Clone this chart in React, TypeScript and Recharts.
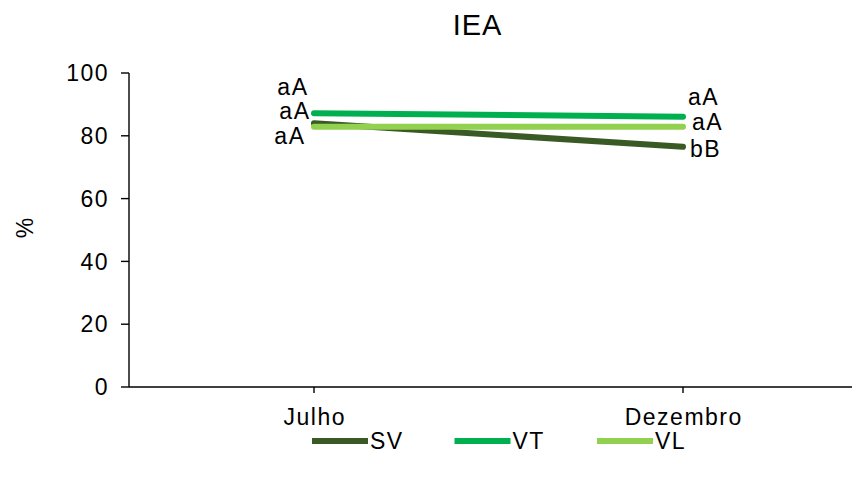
import React from 'react';
import { LineChart, Line, XAxis, YAxis, Legend, LabelList } from 'recharts';

const months = ['Julho', 'Dezembro'];
const seriesNames = ['SV', 'VT', 'VL'];
const svValues = [84, 76.5];
const vtValues = [87.2, 86.1];
const vlValues = [82.9, 82.9];
const svLetters = ['aA', 'bB'];
const vtLetters = ['aA', 'aA'];
const vlLetters = ['aA', 'aA'];
const yTicks = [0, 20, 40, 60, 80, 100];
const title = 'IEA';
const yLabel = '%';

const data = months.map((m, i) => ({
  month: m,
  SV: svValues[i],
  VT: vtValues[i],
  VL: vlValues[i],
  SVl: svLetters[i],
  VTl: vtLetters[i],
  VLl: vlLetters[i],
}));

const COLORS: Record<string, string> = { SV: '#3a5a25', VT: '#00b050', VL: '#92d050' };
const FONT = '"Liberation Sans", Arial, sans-serif';
const FS = 23;
const LS = 1.5;

// label offsets [dx, dy] per series per month (Julho: end anchored, Dezembro: start anchored)
const OFFSETS: Record<string, [number, number][]> = {
  VT: [[-5.5, -26], [5, -20]],
  SV: [[-3.5, -12], [7, 2]],
  VL: [[-8.5, 9], [9, -5]],
};

const makeLabel = (key: string) => (props: any) => {
  const x = props.x ?? props.viewBox?.x;
  const y = props.y ?? props.viewBox?.y;
  if (x == null || y == null) return null;
  const idx = typeof props.index === 'number' ? props.index : x < 480 ? 0 : 1;
  const [dx, dy] = OFFSETS[key][idx];
  return (
    <text
      x={x + dx}
      y={y + dy}
      textAnchor={idx === 0 ? 'end' : 'start'}
      dominantBaseline="central"
      fontFamily={FONT}
      fontSize={FS}
      letterSpacing={LS}
      fill="#000"
    >
      {props.value}
    </text>
  );
};

const XTick = (props: any) => {
  const { x, y, payload } = props;
  return (
    <text
      x={x + LS / 2}
      y={y + 24}
      textAnchor="middle"
      dominantBaseline="central"
      fontFamily={FONT}
      fontSize={FS}
      letterSpacing={LS}
      fill="#000"
    >
      {payload.value}
    </text>
  );
};

const renderLegend = (props: any) => {
  const payload = [...(props.payload || [])].sort(
    (a: any, b: any) => seriesNames.indexOf(a.value) - seriesNames.indexOf(b.value)
  );
  return (
    <svg width={852} height={40} style={{ display: 'block' }}>
      {payload.map((p: any, i: number) => {
        const x0 = 304 + i * 142.5;
        return (
          <g key={p.value}>
            <line x1={x0} y1={21} x2={x0 + 56} y2={21} stroke={p.color} strokeWidth={6} />
            <text
              x={x0 + 58}
              y={21}
              dominantBaseline="central"
              fontFamily={FONT}
              fontSize={FS}
              letterSpacing={LS}
              fill="#000"
            >
              {p.value}
            </text>
          </g>
        );
      })}
    </svg>
  );
};

export default function App() {
  return (
    <div style={{ position: 'relative', width: 852, height: 473, background: '#fff' }}>
      <LineChart width={852} height={473} data={data} margin={{ top: 65, right: 0, bottom: 64, left: 0 }}>
        <XAxis
          dataKey="month"
          padding={{ left: 185, right: 177 }}
          axisLine={{ stroke: '#000', strokeWidth: 1.4 }}
          tickLine={{ stroke: '#000', strokeWidth: 1.4 }}
          tickSize={6}
          tickMargin={0}
          height={30}
          tick={<XTick />}
        />
        <YAxis
          domain={[0, 100]}
          ticks={yTicks}
          width={121}
          axisLine={{ stroke: '#000', strokeWidth: 1.4 }}
          tickLine={{ stroke: '#000', strokeWidth: 1.4 }}
          tickSize={8}
          tickMargin={12}
          tick={{ fill: '#000', fontSize: FS, fontFamily: FONT, letterSpacing: LS }}
        />
        <Legend
          layout="horizontal"
          verticalAlign="middle"
          align="center"
          content={renderLegend}
          wrapperStyle={{ top: 412, left: 0, width: 852, height: 40 }}
        />
        <Line type="linear" dataKey="SV" stroke={COLORS.SV} strokeWidth={6} strokeLinecap="round" dot={false} isAnimationActive={false}>
          <LabelList dataKey="SVl" content={makeLabel('SV')} />
        </Line>
        <Line type="linear" dataKey="VT" stroke={COLORS.VT} strokeWidth={6} strokeLinecap="round" dot={false} isAnimationActive={false}>
          <LabelList dataKey="VTl" content={makeLabel('VT')} />
        </Line>
        <Line type="linear" dataKey="VL" stroke={COLORS.VL} strokeWidth={6} strokeLinecap="round" dot={false} isAnimationActive={false}>
          <LabelList dataKey="VLl" content={makeLabel('VL')} />
        </Line>
      </LineChart>
      <svg width={852} height={473} style={{ position: 'absolute', left: 0, top: 0, pointerEvents: 'none' }}>
        <text x={469.5} y={27} textAnchor="middle" fontFamily={FONT} fontSize={29} letterSpacing={1} fill="#000">
          {title}
        </text>
        <text
          x={17}
          y={220}
          textAnchor="middle"
          dominantBaseline="central"
          transform="rotate(-90 17 220)"
          fontFamily={FONT}
          fontSize={FS}
          fill="#000"
        >
          {yLabel}
        </text>
      </svg>
    </div>
  );
}
